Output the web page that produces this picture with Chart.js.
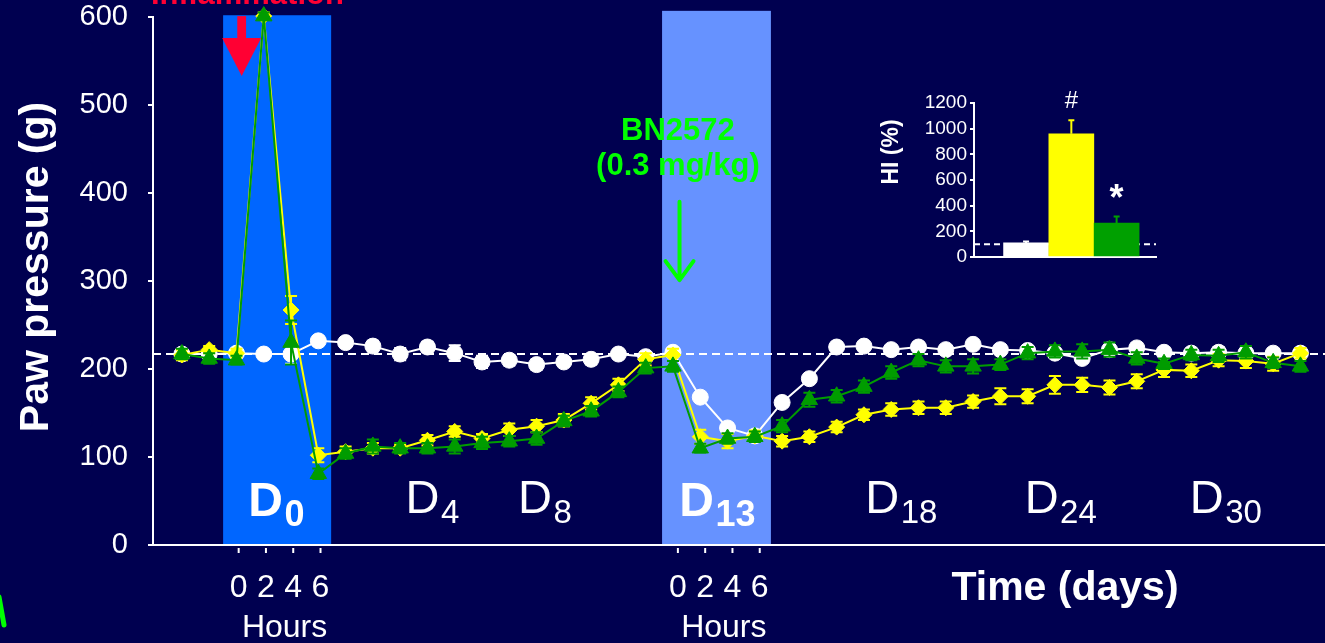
<!DOCTYPE html>
<html>
<head>
<meta charset="utf-8">
<script src="https://cdn.jsdelivr.net/npm/chart.js@4.4.1/dist/chart.umd.min.js"></script>
<style>
  html, body { margin: 0; padding: 0; background: #000050; }
  #wrap { position: relative; width: 1325px; height: 643px; overflow: hidden; }
  #main { position: absolute; left: 0; top: 0; }
  #inset { position: absolute; left: 860px; top: 80px; }
</style>
</head>
<body>
<div id="wrap">
  <canvas id="main" width="1325" height="643"></canvas>
  <canvas id="inset" width="320" height="200"></canvas>
</div>
<script>
// ── Data: paw pressure (g), one value per time point ──
const timepoints = [
    'B1', 'B2', 'D0 0h', 'D0 2h', 'D0 4h', 'D0 6h',
    'D1', 'D2', 'D3', 'D4', 'D5', 'D6', 'D7', 'D8', 'D9', 'D10', 'D11', 'D12',
    'D13 0h', 'D13 2h', 'D13 4h', 'D13 6h',
    'D14', 'D15', 'D16', 'D17', 'D18', 'D19', 'D20', 'D21', 'D22', 'D23',
    'D24', 'D25', 'D26', 'D27', 'D28', 'D29', 'D30', 'D31', 'D32', 'D33'
];

const controlMean = [217, 217, 218, 217, 217, 232, 230, 226, 217, 225, 218, 208, 210, 205,
    208, 211, 217, 214, 219, 168, 133, 124, 162, 189, 225, 226, 222, 225, 222, 228, 222,
    221, 218, 212, 222, 224, 219, 218, 219, 218, 218, 218];
const controlSem = [5, 5, 5, 5, 11, 5, 5, 6, 7, 6, 9, 7, 6, 6, 5, 6, 5, 5, 5, 5, 5, 5, 5,
    5, 4, 4, 4, 4, 4, 4, 5, 5, 5, 5, 5, 5, 5, 5, 6, 5, 5, 4];

const inflamMean = [216, 222, 218, 601, 267, 102, 106, 110, 110, 119, 129, 121, 131, 135,
    142, 161, 182, 211, 216, 123, 118, 124, 118, 123, 134, 148, 154, 156, 156, 163, 169,
    169, 182, 182, 179, 186, 199, 198, 210, 209, 206, 218];
const inflamSem = [6, 4, 5, 4, 16, 8, 6, 6, 4, 6, 6, 5, 7, 7, 7, 7, 7, 7, 7, 8, 8, 6, 6,
    6, 6, 6, 7, 7, 7, 7, 9, 8, 10, 8, 8, 8, 8, 7, 7, 8, 8, 6];

const bnMean = [217, 212, 210, 601, 230, 81, 104, 112, 110, 110, 112, 116, 118, 121, 141,
    152, 174, 201, 203, 110, 121, 123, 135, 165, 169, 180, 196, 210, 203, 203, 205, 218,
    220, 220, 222, 212, 206, 216, 215, 219, 207, 203];
const bnSem = [6, 6, 5, 4, 25, 6, 6, 8, 6, 6, 8, 7, 6, 7, 6, 6, 6, 6, 6, 5, 6, 6, 7, 8, 7,
    7, 7, 7, 7, 8, 6, 7, 7, 8, 8, 7, 6, 6, 7, 7, 6, 6];

const baselineValue = 217;
const yTicks = [0, 100, 200, 300, 400, 500, 600];
const hourLabels = ['0', '2', '4', '6'];
const dayNumbers = ['0', '4', '8', '13', '18', '24', '30'];

// ── Data: inset hyperalgesia index ──
const hiGroups = ['Control', 'Inflammation', 'BN2572'];
const hiValues = [110, 960, 265];
const hiSem = [10, 105, 50];
const hiMarks = ['', '#', '*'];
const hiBaseline = 100;
const hiTicks = [0, 200, 400, 600, 800, 1000, 1200];

// ── Look ──
const FONT = "'Liberation Sans', Arial, sans-serif";
const BG = '#000050';
const WHITE = '#ffffff';
const YELLOW = '#ffff00';
const GREEN = '#009c00';
const LIME = '#00ff00';
const RED = '#ff0033';

const X_MIN = -1.06, X_MAX = 41.9;

// annotation layout (in axis units)
const bands = [
    { from: 1.51, to: 5.47, top: 602, color: '#0066ff' },
    { from: 17.60, to: 21.59, top: 607, color: '#6692ff' },
];
const dayLabelAt = [2.43, 8.20, 12.32, 18.23, 25.05, 30.89, 36.94];
const dayLabelBold = [true, false, false, true, false, false, false];
const hourGroups = [{ start: 2, shift: 0.08 }, { start: 18, shift: 0.18 }];

function toXY(arr) {
    return arr.map((y, i) => ({ x: i, y }));
}

function drawText(ctx, str, x, y, font, color, align, rotate) {
    ctx.save();
    ctx.font = font;
    ctx.fillStyle = color;
    ctx.textAlign = align || 'left';
    ctx.textBaseline = 'alphabetic';
    ctx.translate(x, y);
    if (rotate) ctx.rotate(rotate);
    ctx.fillText(str, 0, 0);
    ctx.restore();
}

// ── Background + shaded treatment windows ──
const bandsPlugin = {
    id: 'bands',
    beforeDraw(chart) {
        const { ctx, scales: { x, y } } = chart;
        ctx.save();
        ctx.fillStyle = BG;
        ctx.fillRect(0, 0, chart.width, chart.height);
        bands.forEach(b => {
            const x0 = x.getPixelForValue(b.from);
            const x1 = x.getPixelForValue(b.to);
            const y0 = y.getPixelForValue(b.top);
            const y1 = y.getPixelForValue(0);
            ctx.fillStyle = b.color;
            ctx.fillRect(x0, y0, x1 - x0, y1 - y0);
        });
        ctx.restore();
    },
    beforeDatasetsDraw(chart) {
        const { ctx, scales: { x, y } } = chart;
        ctx.save();
        // red arrow: inflammation
        const ax = x.getPixelForValue(2.19);
        const aTop = y.getPixelForValue(601);
        const aHead = y.getPixelForValue(576);
        const aTip = y.getPixelForValue(533);
        ctx.fillStyle = RED;
        ctx.fillRect(ax - 4.4, aTop, 8.8, aHead - aTop + 1);
        ctx.beginPath();
        ctx.moveTo(ax - 19.5, aHead);
        ctx.lineTo(ax + 19.5, aHead);
        ctx.lineTo(ax, aTip);
        ctx.closePath();
        ctx.fill();
        // green arrow: BN2572 dosing
        const gx = x.getPixelForValue(18.24);
        const gTop = y.getPixelForValue(390);
        const gTip = y.getPixelForValue(301);
        ctx.strokeStyle = LIME;
        ctx.lineWidth = 4;
        ctx.lineCap = 'round';
        ctx.lineJoin = 'round';
        ctx.beginPath();
        ctx.moveTo(gx, gTop);
        ctx.lineTo(gx, gTip);
        ctx.moveTo(gx - 14, gTip - 19);
        ctx.lineTo(gx, gTip);
        ctx.lineTo(gx + 14, gTip - 19);
        ctx.stroke();
        ctx.restore();
    }
};

// ── Error bars under each series' markers ──
const errorBarPlugin = {
    id: 'errorBars',
    beforeDatasetDraw(chart, args) {
        const ds = chart.data.datasets[args.index];
        if (!ds.sem) return;
        const { ctx, scales: { y } } = chart;
        ctx.save();
        ctx.strokeStyle = ds.borderColor;
        ctx.lineWidth = 2;
        args.meta.data.forEach((pt, i) => {
            const m = ds.data[i].y, e = ds.sem[i];
            const yt = y.getPixelForValue(m + e);
            const yb = y.getPixelForValue(m - e);
            ctx.beginPath();
            ctx.moveTo(pt.x, yt); ctx.lineTo(pt.x, yb);
            ctx.moveTo(pt.x - 6, yt); ctx.lineTo(pt.x + 6, yt);
            ctx.moveTo(pt.x - 6, yb); ctx.lineTo(pt.x + 6, yb);
            ctx.stroke();
        });
        ctx.restore();
    }
};

// ── Texts, hour ticks, titles ──
const labelsPlugin = {
    id: 'labels',
    afterDraw(chart) {
        const { ctx, chartArea, scales: { x, y } } = chart;
        const bottom = chartArea.bottom;

        // inflammation caption (cut at the top edge)
        drawText(ctx, 'Inflammation', chartArea.left - 2, y.getPixelForValue(614.8),
            'bold 31px ' + FONT, RED, 'left');

        // BN2572 caption
        const bx = x.getPixelForValue(18.18);
        drawText(ctx, 'BN2572', bx, y.getPixelForValue(460), 'bold 31px ' + FONT, LIME, 'center');
        drawText(ctx, '(0.3 mg/kg)', bx, y.getPixelForValue(420.5), 'bold 31px ' + FONT, LIME, 'center');

        // day labels D with subscript
        dayNumbers.forEach((d, i) => {
            const bold = dayLabelBold[i];
            const px = x.getPixelForValue(dayLabelAt[i]);
            const dFont = (bold ? 'bold 48px ' : '47px ') + FONT;
            const sFont = (bold ? 'bold 36px ' : '33px ') + FONT;
            ctx.save();
            ctx.font = dFont;
            const w = ctx.measureText('D').width;
            ctx.restore();
            drawText(ctx, 'D', px, y.getPixelForValue(bold ? 32.5 : 36), dFont, WHITE, 'left');
            drawText(ctx, d, px + w + 1.5, y.getPixelForValue(bold ? 21.5 : 24.5), sFont, WHITE, 'left');
        });

        // hour ticks and labels
        ctx.save();
        ctx.strokeStyle = WHITE;
        ctx.lineWidth = 2;
        hourGroups.forEach(g => {
            let sum = 0;
            hourLabels.forEach((h, k) => {
                const hx = x.getPixelForValue(g.start + k + g.shift);
                sum += hx;
                ctx.beginPath();
                ctx.moveTo(hx, bottom + 3);
                ctx.lineTo(hx, bottom + 8);
                ctx.stroke();
                drawText(ctx, h, hx, bottom + 52, '32px ' + FONT, WHITE, 'center');
            });
            drawText(ctx, 'Hours', sum / hourLabels.length + 5, bottom + 92, '32px ' + FONT, WHITE, 'center');
        });
        ctx.restore();

        // axis titles
        drawText(ctx, 'Paw pressure (g)', 48, 267, 'bold 41px ' + FONT, WHITE, 'center', -Math.PI / 2);
        drawText(ctx, 'Time (days)', 1065, bottom + 55, 'bold 41px ' + FONT, WHITE, 'center');

        // stray green stroke at the bottom-left edge
        ctx.save();
        ctx.strokeStyle = LIME;
        ctx.lineWidth = 5;
        ctx.lineCap = 'round';
        ctx.beginPath();
        ctx.moveTo(-1, 597);
        ctx.lineTo(4, 625);
        ctx.stroke();
        ctx.restore();
    }
};

// ── Main time-course chart ──
function pointSeries(label, mean, sem, color, style, radius) {
    return {
        label,
        data: toXY(mean),
        sem,
        borderColor: color,
        backgroundColor: color,
        borderWidth: 2,
        pointStyle: style,
        pointRadius: radius,
        pointBorderWidth: 1,
        pointBorderColor: color,
        pointBackgroundColor: color,
        tension: 0,
        clip: false,
    };
}

new Chart(document.getElementById('main').getContext('2d'), {
    type: 'line',
    data: {
        labels: timepoints,
        datasets: [
            pointSeries('BN2572 (0.3 mg/kg)', bnMean, bnSem, GREEN, 'triangle', 9.5),
            pointSeries('Inflammation', inflamMean, inflamSem, YELLOW, 'rectRot', 8),
            pointSeries('Control', controlMean, controlSem, WHITE, 'circle', 8),
            {
                label: 'baseline',
                data: [{ x: X_MIN, y: baselineValue }, { x: X_MAX, y: baselineValue }],
                borderColor: WHITE,
                borderWidth: 2,
                borderDash: [8, 5],
                pointRadius: 0,
            },
        ]
    },
    options: {
        responsive: false,
        animation: false,
        devicePixelRatio: 1,
        layout: { autoPadding: false, padding: { top: 17, right: 0, bottom: 0, left: 0 } },
        plugins: { legend: { display: false }, tooltip: { enabled: false } },
        scales: {
            x: {
                type: 'linear',
                min: X_MIN,
                max: X_MAX,
                ticks: { display: false },
                grid: { display: false },
                border: { color: WHITE, width: 2 },
                afterFit: s => { s.height = 98; s.paddingLeft = 0; s.paddingRight = 0; },
            },
            y: {
                min: 0,
                max: 600,
                afterBuildTicks: s => { s.ticks = yTicks.map(v => ({ value: v })); },
                ticks: { color: WHITE, padding: 20, autoSkip: false, font: { family: FONT, size: 29 } },
                grid: { drawOnChartArea: false, color: WHITE, lineWidth: 2, tickLength: 5 },
                border: { color: WHITE, width: 2 },
                afterFit: s => { s.width = 153; s.paddingTop = 0; s.paddingBottom = 0; },
            }
        }
    },
    plugins: [bandsPlugin, errorBarPlugin, labelsPlugin]
});

// ── Inset: HI (%) bars ──
const insetPlugin = {
    id: 'insetMarks',
    afterDatasetsDraw(chart) {
        const { ctx, scales: { y } } = chart;
        const meta = chart.getDatasetMeta(0);
        const colors = chart.data.datasets[0].backgroundColor;
        ctx.save();
        meta.data.forEach((bar, i) => {
            const top = y.getPixelForValue(hiValues[i] + hiSem[i]);
            ctx.strokeStyle = colors[i];
            ctx.lineWidth = 2;
            ctx.beginPath();
            ctx.moveTo(bar.x, bar.y);
            ctx.lineTo(bar.x, top);
            ctx.moveTo(bar.x - 3, top);
            ctx.lineTo(bar.x + 3, top);
            ctx.stroke();
            if (hiMarks[i] === '#') {
                drawText(ctx, '#', bar.x, top - 12, '24px ' + FONT, WHITE, 'center');
            } else if (hiMarks[i] === '*') {
                drawText(ctx, '*', bar.x, top - 7, 'bold 36px ' + FONT, WHITE, 'center');
            }
        });
        ctx.restore();
        drawText(ctx, 'HI (%)', 38, 72, 'bold 23px ' + FONT, WHITE, 'center', -Math.PI / 2);
    }
};

new Chart(document.getElementById('inset').getContext('2d'), {
    type: 'bar',
    data: {
        labels: hiGroups,
        datasets: [
            {
                label: 'HI',
                data: hiValues.map((v, i) => ({ x: i, y: v })),
                backgroundColor: [WHITE, YELLOW, '#00a000'],
                borderWidth: 0,
                barThickness: 45,
            },
            {
                type: 'line',
                label: 'reference',
                data: [{ x: -1.15, y: hiBaseline }, { x: 2.87, y: hiBaseline }],
                borderColor: WHITE,
                borderWidth: 2,
                borderDash: [6, 4],
                pointRadius: 0,
            }
        ]
    },
    options: {
        responsive: false,
        animation: false,
        devicePixelRatio: 1,
        layout: { autoPadding: false, padding: { top: 23, right: 24, bottom: 23, left: 0 } },
        plugins: { legend: { display: false }, tooltip: { enabled: false } },
        scales: {
            x: {
                type: 'linear',
                min: -1.15,
                max: 2.87,
                offset: false,
                ticks: { display: false },
                grid: { display: false },
                border: { color: WHITE, width: 2 },
                afterFit: s => { s.height = 0; s.paddingLeft = 0; s.paddingRight = 0; },
            },
            y: {
                min: 0,
                max: 1200,
                afterBuildTicks: s => { s.ticks = hiTicks.map(v => ({ value: v })); },
                ticks: { color: WHITE, padding: 3, autoSkip: false, font: { family: FONT, size: 19 },
                         callback: v => String(v) },
                grid: { drawOnChartArea: false, color: WHITE, lineWidth: 2, tickLength: 4 },
                border: { color: WHITE, width: 2 },
                afterFit: s => { s.width = 114; s.paddingTop = 0; s.paddingBottom = 0; },
            }
        }
    },
    plugins: [insetPlugin]
});
</script>
</body>
</html>
